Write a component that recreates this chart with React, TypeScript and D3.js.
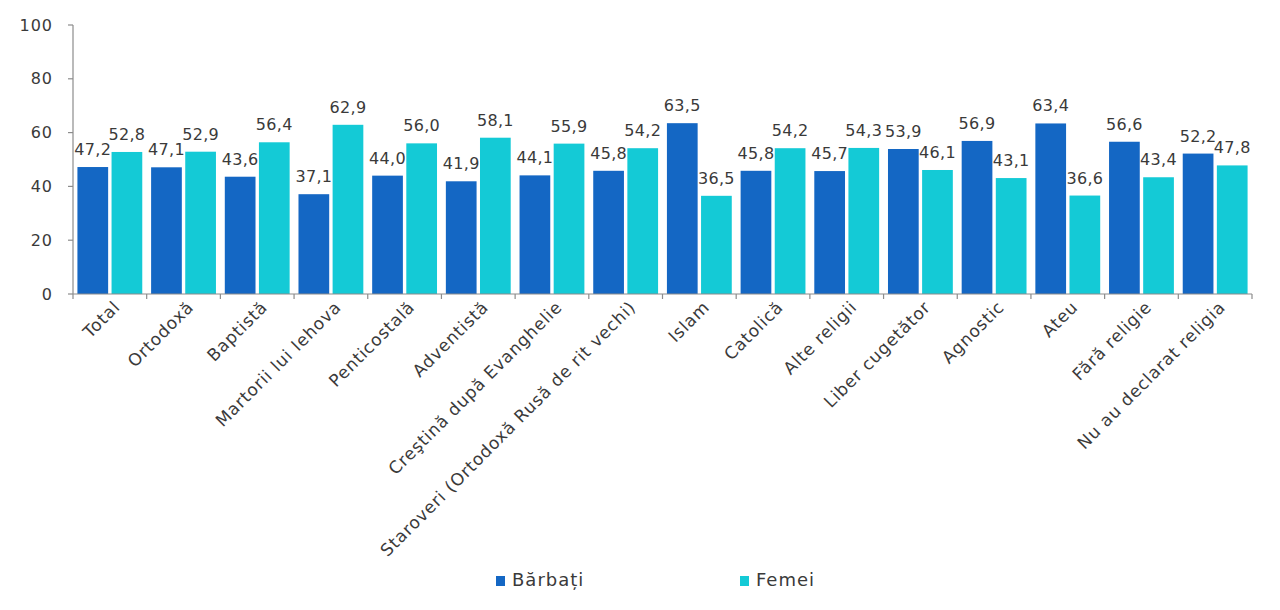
import React from "react";
import * as d3 from "d3";

// chart data
const categories = [
  "Total",
  "Ortodoxă",
  "Baptistă",
  "Martorii lui Iehova",
  "Penticostală",
  "Adventistă",
  "Creştină după Evanghelie",
  "Staroveri (Ortodoxă Rusă de rit vechi)",
  "Islam",
  "Catolică",
  "Alte religii",
  "Liber cugetător",
  "Agnostic",
  "Ateu",
  "Fără religie",
  "Nu au declarat religia",
];
const barbati = [47.2, 47.1, 43.6, 37.1, 44.0, 41.9, 44.1, 45.8, 63.5, 45.8, 45.7, 53.9, 56.9, 63.4, 56.6, 52.2];
const femei = [52.8, 52.9, 56.4, 62.9, 56.0, 58.1, 55.9, 54.2, 36.5, 54.2, 54.3, 46.1, 43.1, 36.6, 43.4, 47.8];
const seriesNames = ["Bărbați", "Femei"];
const yTicks = [0, 20, 40, 60, 80, 100];

const WIDTH = 1280;
const HEIGHT = 610;
const LEFT = 73;
const RIGHT = 1252;
const TOP = 25;
const BOTTOM = 294;
const colors = ["#1467C4", "#14CAD6"];
const FONT = "'DejaVu Sans', sans-serif";
const TEXT = "#3a3a3a";
const AXIS = "#8c8c8c";

const fmt = (v: number) => v.toFixed(1).replace(".", ",");

export default function App() {
  const x0 = d3.scaleBand<string>()
    .domain(categories)
    .range([LEFT, RIGHT])
    .paddingInner(0.12)
    .paddingOuter(0.06);
  const x1 = d3.scaleBand<string>()
    .domain(seriesNames)
    .range([0, x0.bandwidth()])
    .paddingInner(0.1);
  const y = d3.scaleLinear().domain([0, 100]).range([BOTTOM, TOP]);

  const step = x0.step();
  const boundaries = categories.map((c) => (x0(c) ?? 0) - (step * 0.12) / 2);
  boundaries.push(RIGHT);

  const series = [barbati, femei];

  return (
    <svg
      width={WIDTH}
      height={HEIGHT}
      style={{position: "absolute", left: 0, top: 0, background: "#fff"}}
      fontFamily={FONT}
    >
      {/* bars */}
      {categories.map((c, i) => (
        <g key={c} transform={`translate(${x0(c)},0)`}>
          {seriesNames.map((s, k) => {
            const v = series[k][i];
            const bx = x1(s) ?? 0;
            return (
              <g key={s}>
                <rect
                  x={bx}
                  y={y(v)}
                  width={x1.bandwidth()}
                  height={BOTTOM - y(v)}
                  fill={colors[k]}
                />
                <text
                  x={bx + x1.bandwidth() / 2}
                  y={y(v) - 12}
                  textAnchor="middle"
                  fontSize={16}
                  letterSpacing={0.3}
                  fill={TEXT}
                >
                  {fmt(v)}
                </text>
              </g>
            );
          })}
        </g>
      ))}

      {/* y axis */}
      <line x1={LEFT} x2={LEFT} y1={TOP} y2={BOTTOM} stroke={AXIS} strokeWidth={1.2} />
      {yTicks.map((t) => (
        <g key={t} transform={`translate(0,${y(t)})`}>
          <line x1={LEFT - 5} x2={LEFT} stroke={AXIS} strokeWidth={1.2} />
          <text x={53} dy="0.35em" textAnchor="end" fontSize={16} letterSpacing={1} fill={TEXT}>
            {t}
          </text>
        </g>
      ))}

      {/* x axis */}
      <line x1={LEFT} x2={RIGHT} y1={BOTTOM} y2={BOTTOM} stroke={AXIS} strokeWidth={1.2} />
      {boundaries.map((b, i) => (
        <line key={i} x1={b} x2={b} y1={BOTTOM} y2={BOTTOM + 5} stroke={AXIS} strokeWidth={1.2} />
      ))}
      {categories.map((c) => {
        const cx = (x0(c) ?? 0) + x0.bandwidth() / 2;
        return (
          <text
            key={c}
            transform={`translate(${cx + 7},${BOTTOM + 10}) rotate(-45)`}
            textAnchor="end"
            dy="0.35em"
            fontSize={17}
            letterSpacing={0.8}
            fill={TEXT}
          >
            {c}
          </text>
        );
      })}

      {/* legend */}
      {seriesNames.map((s, k) => (
        <g key={s} transform={`translate(${[496, 740][k]},576)`}>
          <rect x={0} y={0} width={9} height={10} fill={colors[k]} />
          <text x={16} y={10} fontSize={18} letterSpacing={1} fill={TEXT}>
            {s}
          </text>
        </g>
      ))}
    </svg>
  );
}
